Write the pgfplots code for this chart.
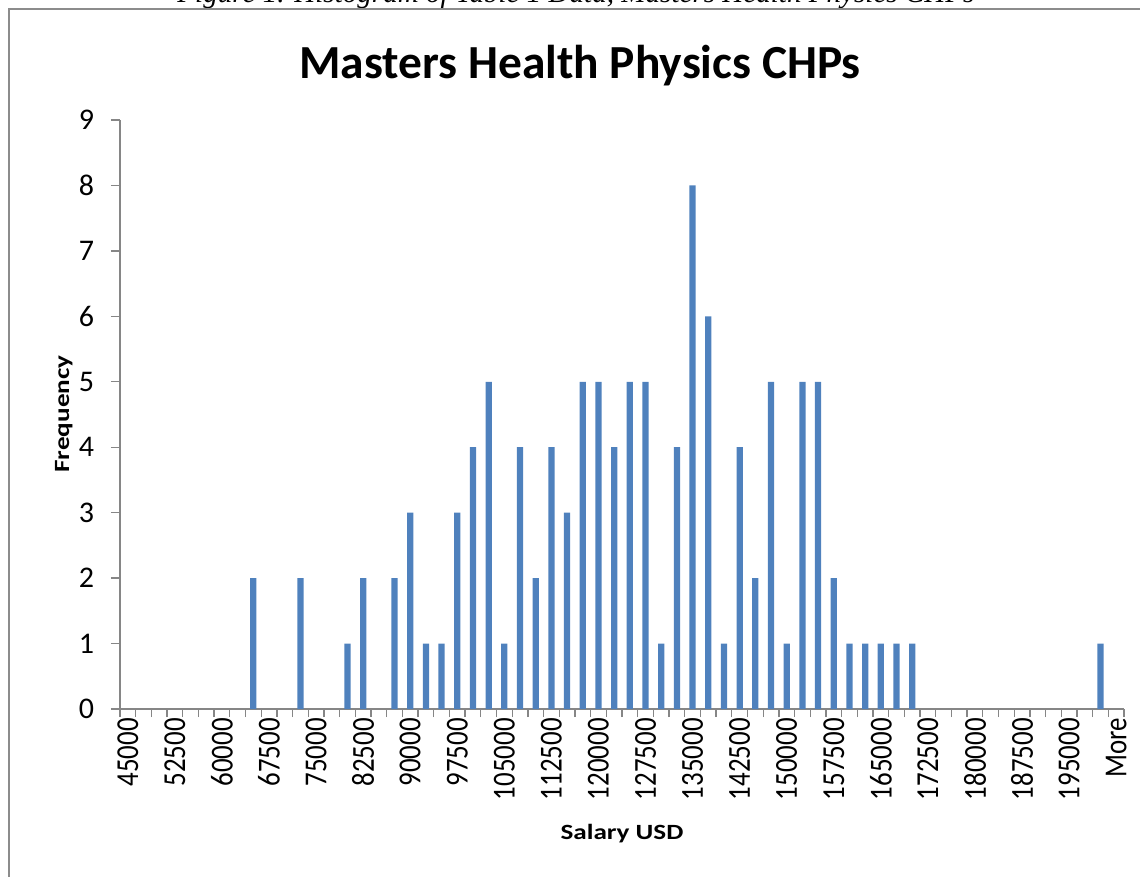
\documentclass[border=0pt]{standalone}
\usepackage{pgfplots}
\pgfplotsset{compat=1.18}
\usepackage{fontspec}
\setmainfont{Carlito}
\newfontfamily\capfont{Liberation Serif}
\definecolor{barblue}{HTML}{4F81BD}
\definecolor{axisgray}{HTML}{868686}
\definecolor{bordergray}{HTML}{8C8C8C}
\newcommand{\xl}[1]{\scalebox{0.84}[1]{#1}}
\begin{document}
\begin{tikzpicture}[x=0.75pt,y=-0.75pt]
\useasboundingbox (0,0) rectangle (1140,876);
\clip (0,0) rectangle (1140,876);
\node[anchor=base, inner sep=0pt] at (576,2.5) {\resizebox{597.75pt}{!}{\capfont\itshape Figure 1. Histogram of Table 1 Data, Masters Health Physics CHPs}};
\draw[bordergray, line width=1.2pt] (9,890) -- (9,9) -- (1150,9);
\node[anchor=base, inner sep=0pt] at (580,78) {\fontsize{35.6}{40}\selectfont\bfseries Masters Health Physics CHPs};
\node[anchor=base, inner sep=0pt] at (622,839) {\scalebox{1.25}[1]{\fontsize{16.3}{18}\selectfont\bfseries Salary USD}};
\node[anchor=base, inner sep=0pt, rotate=90] at (69,414) {\scalebox{1.25}[1]{\fontsize{16.3}{18}\selectfont\bfseries Frequency}};
\begin{axis}[
  at={(90pt,-531.75pt)}, anchor=south west,
  scale only axis, width=753pt, height=441.75pt,
  xmin=-0.5, xmax=63.5, ymin=0, ymax=9,
  axis x line*=bottom, axis y line*=left,
  axis line style={-, draw=axisgray, line width=1.5pt},
  every outer x axis line/.append style={-},
  every outer y axis line/.append style={-},
  tick align=outside,
  major tick length=6.75pt, minor tick length=6pt,
  tick style={draw=axisgray, line width=1pt},
  major x tick style={draw=none},
  ytick={0,1,...,9},
  xtick={0,3,...,63},
  minor xtick={-0.5,0.5,...,63.5},
  xticklabels={\xl{45000},\xl{52500},\xl{60000},\xl{67500},\xl{75000},\xl{82500},\xl{90000},\xl{97500},\xl{105000},\xl{112500},\xl{120000},\xl{127500},\xl{135000},\xl{142500},\xl{150000},\xl{157500},\xl{165000},\xl{172500},\xl{180000},\xl{187500},\xl{195000},\xl{More}},
  xticklabel style={rotate=90, anchor=east, inner sep=0pt, font=\fontsize{24}{26}\selectfont},
  yticklabel style={anchor=east, inner sep=0pt, xshift=-12.5pt, font=\fontsize{22.5}{24}\selectfont},
  /pgf/number format/assume math mode=true,
  ybar, bar width=0.4,
]
\addplot[fill=barblue, draw=none] coordinates {
(8,2) (11,2) (14,1) (15,2) (17,2) (18,3) (19,1) (20,1) (21,3) (22,4)
(23,5) (24,1) (25,4) (26,2) (27,4) (28,3) (29,5) (30,5) (31,4) (32,5)
(33,5) (34,1) (35,4) (36,8) (37,6) (38,1) (39,4) (40,2) (41,5) (42,1)
(43,5) (44,5) (45,2) (46,1) (47,1) (48,1) (49,1) (50,1) (62,1)
};
\end{axis}
\end{tikzpicture}
\end{document}
